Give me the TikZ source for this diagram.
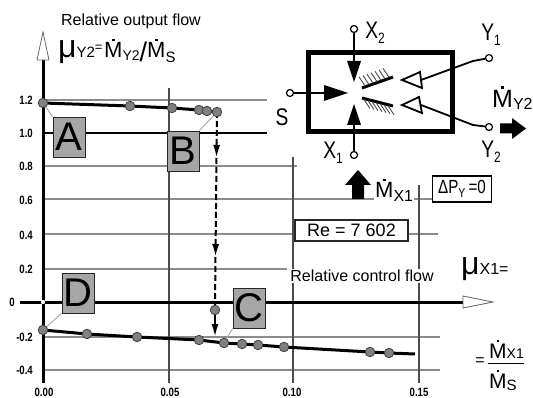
\documentclass[tikz,border=0pt]{standalone}
\usepackage{fontspec}
\setmainfont{Liberation Sans}
\newfontfamily\nar[FakeStretch=0.8]{Liberation Sans}
\usetikzlibrary{arrows.meta}
\newcommand\Md{\leavevmode\hbox{\setbox0\hbox{M}\rlap{\hbox to\wd0{\hss\raisebox{\dimexpr\ht0+0.07em\relax}{\rule{0.12em}{0.12em}}\hss}}\box0}}
\newcommand\Mlab[4]{{\fontsize{#1}{#1}\selectfont\Md}\raisebox{#4}{\fontsize{#2}{#2}\selectfont #3}}
\newcommand\fs[1]{\fontsize{#1}{#1}\selectfont}
\begin{document}
\begin{tikzpicture}[x=1pt,y=-1pt,
  grid/.style={black!45, line width=1.1pt},
  vgrid/.style={black!70, line width=1.1pt},
  curve/.style={line width=3pt, black},
  dot/.style={circle, fill=black!50, draw=black!75, line width=0.8pt, minimum size=9.5pt, inner sep=0pt},
  tag/.style={draw=black!85, fill=black!35, line width=0.9pt, minimum width=32pt, minimum height=40pt, inner sep=0pt, font=\fs{40}},
  leader/.style={black!35, line width=0.9pt},
  tick/.style={font=\nar\bfseries\fs{12}, inner sep=0pt},
  port/.style={circle, draw, fill=white, line width=1.2pt, minimum size=7pt, inner sep=0pt},
  lw/.style={line width=1.8pt},
  dline/.style={line width=2pt, dash pattern=on 6pt off 3pt},
  tip/.style={-{Latex[length=13pt,width=7pt]}},
  lab/.style={font=\nar\fs{24}, inner sep=0pt}
]
\useasboundingbox[fill=white] (0,0) rectangle (533,398);

% horizontal grid
\draw[grid] (43,100) -- (267,100);
\draw[black, line width=1.5pt] (43,133) -- (267,133);
\draw[grid] (43,166) -- (297,166);
\draw[grid] (43,199) -- (433,199);
\draw[grid] (43,234) -- (438,234);
\draw[grid] (43,269) -- (287,269);
\draw[grid] (43,337) -- (440,337);
\draw[grid] (43,370) -- (440,370);
% vertical grid
\draw[vgrid] (169,88) -- (169,383);
\draw[vgrid] (293,157) -- (293,383);
\draw[vgrid] (419,185) -- (419,383);

% axes
\draw[line width=3pt] (43,383) -- (43,60);
\draw[line width=0.8pt, draw=black!60, fill=white] (43,32) -- (49,60) -- (37,60) -- cycle;
\draw[line width=3pt] (20,302) -- (463,302);
\draw[line width=0.8pt, draw=black!60, fill=white] (493,302) -- (463,296) -- (463,308) -- cycle;
\fill[white] (43,302) circle (2.2);

% tick labels
\foreach \v/\y in {1.2/100,1.0/133,0.8/166,0.6/200,0.4/235,0.2/269,-0.2/337,-0.4/370}
  \node[tick, anchor=east] at (33,\y) {\v};
\node[tick] at (12,302) {0};
\node[tick] at (44,392) {0.00};
\node[tick] at (170,392) {0.05};
\node[tick] at (292,392) {0.10};
\node[tick] at (419,392) {0.15};

% data coordinates
\coordinate (u1) at (43,103);
\coordinate (u2) at (130,106);
\coordinate (u3) at (172,108);
\coordinate (u4) at (199,110);
\coordinate (u5) at (207,111);
\coordinate (u6) at (217,112);
\coordinate (l1) at (43,330);
\coordinate (l2) at (87,334);
\coordinate (l3) at (137,337);
\coordinate (l4) at (199,340);
\coordinate (l5) at (224,343);
\coordinate (l6) at (242,344);
\coordinate (l7) at (258,345);
\coordinate (l8) at (284,347);
\coordinate (l9) at (370,352);
\coordinate (l10) at (389,353);
\coordinate (lend) at (415,354);
\coordinate (m) at (215,310);
\coordinate (hit) at (215,337);
\coordinate (d1) at (216.5,158);
\coordinate (d2) at (215.5,257);

% tags and leaders
\node[tag] (A) at (69,137) {A};
\node[tag] (B) at (183,151) {B};
\node[tag] (D) at (78,293) {D};
\node[tag] (C) at (249,308) {C};
\draw[leader] (A.north west) -- (u1);
\draw[leader] (B.north east) -- (u6);
\draw[leader] (D.south west) -- (l1);
\draw[leader] (C.south west) -- (l5);

% curves
\draw[curve] (u1) -- (u2) -- (u3) -- (u4) -- (u5) -- (u6);
\draw[curve] (l1) -- (l2) -- (l3) -- (l4) -- (l5) -- (l6) -- (l7) -- (l8) -- (l9) -- (l10) -- (lend);

% dashed transfer line
\draw[dline, tip] (u6) -- (d1);
\draw[dline, tip] (d1) -- (d2);
\draw[dline] (d2) -- (m);
\draw[line width=2pt, tip] (m) -- (hit);

% dots
\foreach \p in {u1,u2,u3,u4,u5,u6,l1,l2,l3,l4,l5,l6,l7,l8,l9,l10,m}
  \node[dot] at (\p) {};

% texts
\node[font=\fs{16}] (ylab) at (131,21) {Relative output flow};
\node[anchor=base west, inner sep=0pt] (mu2) at (58,58)
  {{\fs{32}μ}{\fs{15}Y2}\raisebox{6pt}{\fs{13}=}\,\Mlab{22}{14}{Y2}{-3pt}\raisebox{-4pt}{\fs{27}/}\Mlab{22}{15}{S}{-5pt}};
\node[font=\fs{16}, fill=white, inner sep=1pt] (xlab) at (362,276) {Relative control flow};
\node[anchor=base west, inner sep=0pt] (mu1) at (461,275) {{\fs{32}μ}{\fs{16}X1=}};
\node[font=\fs{16}, inner sep=0pt] (eq) at (480,362) {=};
\node[anchor=base west, inner sep=0pt] (num) at (489,358) {\Mlab{21}{14}{X1}{0pt}};
\node[anchor=base west, inner sep=0pt] (den) at (489,388) {\Mlab{21}{15}{S}{-2pt}};
\draw[line width=1pt] (488,363.5) -- (524,363.5);
\node[draw=black!85, fill=white, line width=1.5pt, minimum width=113pt, minimum height=21pt, inner sep=0pt, font=\fs{18}] (re) at (351.5,230.5) {Re = 7 602};

% valve block
\draw[line width=5pt, fill=white] (308,53) rectangle (452,132);
\node[port] (x2) at (354,29) {};
\node[port] (s) at (290,93) {};
\node[port] (x1) at (354,155) {};
\node[port] (y1) at (489,58) {};
\node[port] (y2) at (489,127) {};
\draw[lw] (x2) -- (354,62);
\fill (347,61) -- (361,61) -- (354,82) -- cycle;
\draw[lw] (s) -- (326,93);
\fill (324,85) -- (348,93) -- (324,101) -- cycle;
\draw[lw] (x1) -- (354,124);
\fill (347,125) -- (361,125) -- (354,104) -- cycle;
% deflector walls
\draw[line width=3pt] (362,88) -- (393,77);
\foreach \i in {0,...,6}
  \draw[black!70, line width=0.9pt] ({365+4*\i},{87-(3+4*\i)*0.355}) -- ++(-6,-9);
\draw[line width=3pt] (362,98) -- (393,106);
\foreach \i in {0,...,6}
  \draw[black!70, line width=0.9pt] ({364+4*\i},{99+(2+4*\i)*0.26}) -- ++(6,9);
% outputs
\draw[lw] (421,80) -- (473,61) -- (y1);
\draw[lw, fill=white] (402,80) -- (420,72) -- (422,88) -- cycle;
\draw[lw] (421,105) -- (473,125) -- (y2);
\draw[lw, fill=white] (402,105) -- (419,97) -- (422,113) -- cycle;
% port labels
\node[lab] (x2l) at (375,33) {X\raisebox{-5pt}{\fs{15}2}};
\node[lab] (x1l) at (333,153) {X\raisebox{-5pt}{\fs{15}1}};
\node[lab] (sl) at (282,117) {S};
\node[lab] (y1l) at (491,35) {Y\raisebox{-5pt}{\fs{15}1}};
\node[lab] (y2l) at (491,152) {Y\raisebox{-5pt}{\fs{15}2}};
% flow labels and block arrows
\node[anchor=base west, inner sep=0pt] (my2) at (492,108) {\Mlab{25}{16}{Y2}{-2pt}};
\fill (500,123.5) -- (512,123.5) -- (512,118) -- (526,128.5) -- (512,139) -- (512,133.5) -- (500,133.5) -- cycle;
\fill (352,199) -- (352,185) -- (345,185) -- (358,170) -- (371,185) -- (364,185) -- (364,199) -- cycle;
\node[anchor=base west, fill=white, inner sep=1pt] (mx1) at (374,198) {\Mlab{22}{16}{X1}{-4pt}};
\node[draw, fill=white, line width=1.5pt, minimum width=59pt, minimum height=26pt, inner sep=0pt, font=\nar\fs{19}] (dp) at (462,189) {ΔP\raisebox{-4pt}{\fs{13}Y}\,=0};
\end{tikzpicture}
\end{document}
